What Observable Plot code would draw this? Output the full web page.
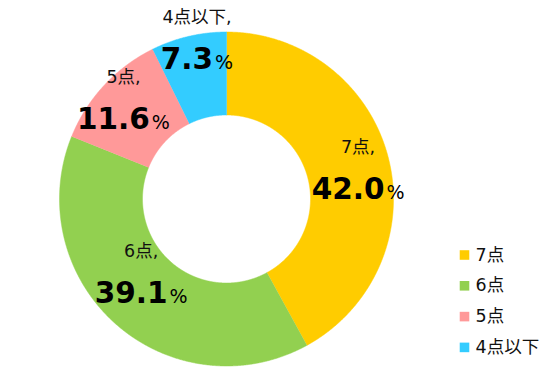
<!DOCTYPE html>
<html>
<head>
<meta charset="utf-8">
<script src="https://cdn.jsdelivr.net/npm/d3@7"></script>
<script src="https://cdn.jsdelivr.net/npm/@observablehq/plot@0.6"></script>
<style>
  html, body { margin: 0; padding: 0; background: #fff; }
  #chart { width: 550px; height: 379px; }
</style>
</head>
<body>
<div id="chart"></div>
<script>
// ---- data ----
const categories = ["7点", "6点", "5点", "4点以下"];
const values = [42.0, 39.1, 11.6, 7.3];
const colors = ["#FFCC00", "#92D050", "#FF9999", "#33CCFF"];

// ---- layout (not data) ----
const W = 550, H = 379;
const cx = 226, cy = 198.5, R = 167, R0 = 84;
// label nudges from the slice mid-angle point (dx, dy), in px
const labelNudge = [[10, 31], [-2, 10], [-11, 15], [-1, -8]];
const legendX = 464, legendY0 = 254.5, legendStep = 30.8;
const FONT = "'DejaVu Sans', 'Noto Sans CJK JP', sans-serif";

// ---- derived geometry ----
const total = d3.sum(values);
let cum = 0;
const slices = categories.map((c, i) => {
  const a0 = cum / total * 2 * Math.PI;
  cum += values[i];
  const a1 = cum / total * 2 * Math.PI;
  return {cat: c, value: values[i], a0, a1};
});
const ringPts = [];
for (const s of slices) {
  const n = Math.max(8, Math.ceil((s.a1 - s.a0) / (Math.PI / 720)));
  for (let k = 0; k <= n; k++) {
    const t = s.a0 + (s.a1 - s.a0) * k / n;
    ringPts.push({cat: s.cat, x: cx + R * Math.sin(t), y: cy - R * Math.cos(t)});
  }
  for (let k = n; k >= 0; k--) {
    const t = s.a0 + (s.a1 - s.a0) * k / n;
    ringPts.push({cat: s.cat, x: cx + R0 * Math.sin(t), y: cy - R0 * Math.cos(t)});
  }
}
const Rm = (R + R0) / 2;
const labels = slices.map((s, i) => {
  const am = (s.a0 + s.a1) / 2;
  return {
    cat: s.cat,
    value: s.value,
    x: cx + Rm * Math.sin(am) + labelNudge[i][0],
    y: cy - Rm * Math.cos(am) + labelNudge[i][1]
  };
});

const chart = Plot.plot({
  width: W,
  height: H,
  margin: 0,
  x: {domain: [0, W], range: [0, W], axis: null},
  y: {domain: [0, H], range: [0, H], axis: null},
  color: {domain: categories, range: colors},
  style: {fontFamily: FONT, background: "#fff"},
  marks: [
    Plot.line(ringPts, {x: "x", y: "y", z: "cat", fill: "cat", stroke: "cat", strokeWidth: 0.5, curve: "linear"}),
    // category labels
    Plot.text(labels, {
      x: "x", y: "y", dy: -46, text: d => d.cat + ",",
      fontSize: 17.5, fill: "#111", textAnchor: "middle", lineAnchor: "bottom", fontFamily: FONT
    }),
    // value labels (number bold + small %)
    Plot.text(labels, {
      x: "x", y: "y", text: d => d.value.toFixed(1) + "%",
      fontSize: 29.5, fontWeight: "bold", fill: "#000", textAnchor: "middle", lineAnchor: "bottom",
      fontFamily: FONT
    }),
    // legend
    Plot.dot(categories, {
      x: () => legendX, y: (d, i) => legendY0 + i * legendStep,
      fill: d => d, symbol: "square", r: 5.4
    }),
    Plot.text(categories, {
      x: () => legendX + 11, y: (d, i) => legendY0 + i * legendStep,
      text: d => d, textAnchor: "start", fontSize: 17.5, fill: "#111", fontFamily: FONT
    })
  ]
});

// split value labels into bold number + small percent sign
const ns = "http://www.w3.org/2000/svg";
chart.querySelectorAll("text").forEach(t => {
  const s = t.textContent;
  if (!/%$/.test(s)) return;
  const num = s.replace("%", "");
  t.textContent = "";
  const a = document.createElementNS(ns, "tspan");
  a.textContent = num;
  const b = document.createElementNS(ns, "tspan");
  b.textContent = "%";
  b.setAttribute("style", "font-size:19px;font-weight:normal");
  b.setAttribute("dx", "2");
  t.appendChild(a);
  t.appendChild(b);
});

document.getElementById("chart").appendChild(chart);
</script>
</body>
</html>
